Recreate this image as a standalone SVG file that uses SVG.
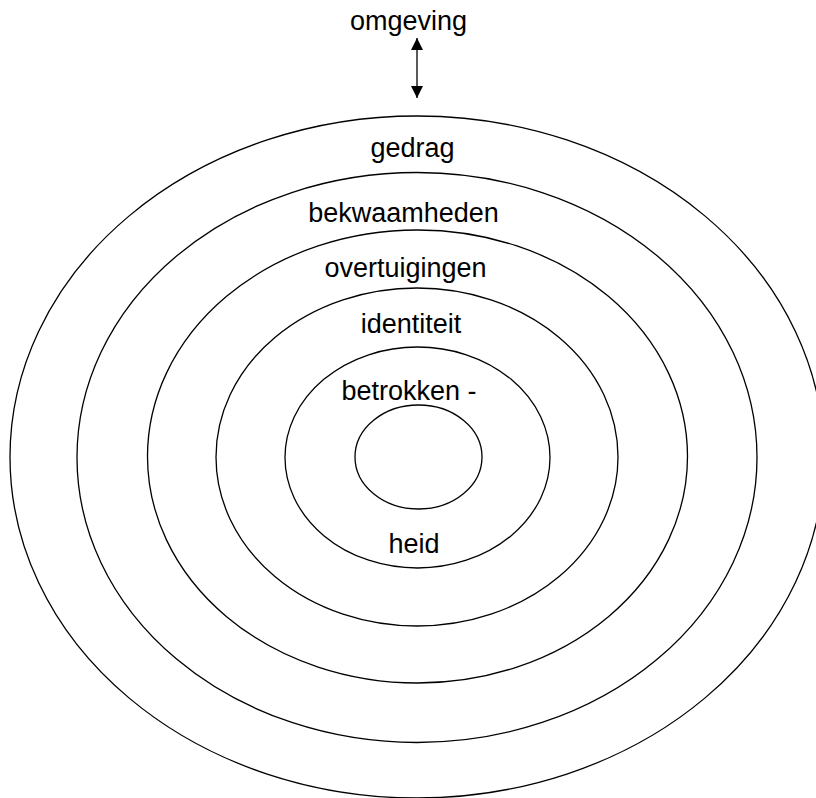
<svg xmlns="http://www.w3.org/2000/svg" width="816" height="798" viewBox="0 0 816 798">
<style>
.ring{fill:none;stroke:#000;stroke-width:1.3}
.lbl{font-family:"Liberation Sans",Arial,sans-serif;font-size:27px;fill:#000;text-anchor:middle}
.conn{stroke:#000;stroke-width:1.3;fill:none}
</style>
<defs>
<marker id="ah" viewBox="0 0 12 12" refX="12" refY="6" markerWidth="12" markerHeight="12" markerUnits="userSpaceOnUse" orient="auto-start-reverse">
<path d="M0,0 L12,6 L0,12 Z" fill="#000"/>
</marker>
</defs>
<rect width="816" height="798" fill="#fff"/>
<g id="ring-gedrag"><ellipse class="ring" cx="417" cy="457" rx="407" ry="341"/><text class="lbl" x="412.5" y="157">gedrag</text></g>
<g id="ring-bekwaamheden"><ellipse class="ring" cx="417" cy="457.5" rx="340" ry="285"/><text class="lbl" x="403.5" y="222">bekwaamheden</text></g>
<g id="ring-overtuigingen"><ellipse class="ring" cx="417.5" cy="456.5" rx="270" ry="226.5"/><text class="lbl" x="405.5" y="277">overtuigingen</text></g>
<g id="ring-identiteit"><ellipse class="ring" cx="417" cy="457" rx="201" ry="169"/><text class="lbl" x="411" y="333">identiteit</text></g>
<g id="ring-betrokkenheid"><ellipse class="ring" cx="417.5" cy="457.5" rx="132.5" ry="110.5"/><text class="lbl" x="409" y="400">betrokken -</text><text class="lbl" x="414" y="553">heid</text></g>
<g id="core"><ellipse class="ring" cx="418.5" cy="457" rx="63.5" ry="52"/></g>
<g id="omgeving"><text class="lbl" x="408.5" y="30">omgeving</text></g>
<g id="connectors">
<line class="conn" x1="417" y1="38" x2="417" y2="98" marker-start="url(#ah)" marker-end="url(#ah)"/>
</g>
</svg>
